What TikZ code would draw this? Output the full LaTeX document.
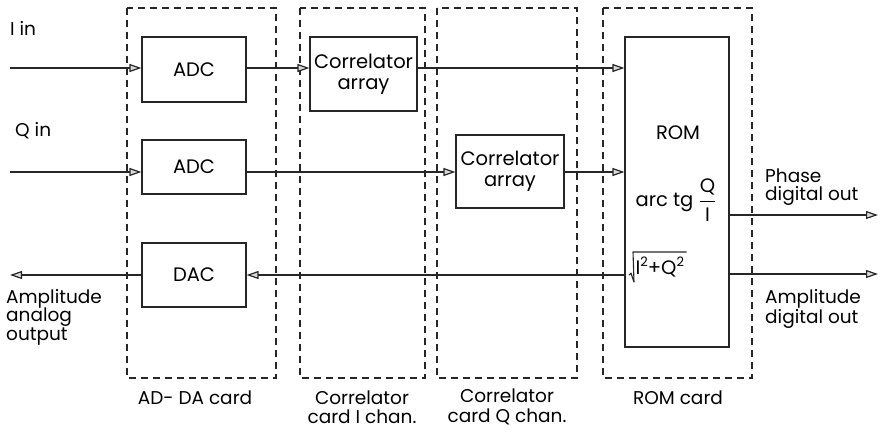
\documentclass[tikz,border=0pt]{standalone}
\usepackage{fontspec}
\setmainfont{Poppins}
\usetikzlibrary{arrows.meta}
\newcommand{\supn}[1]{\raisebox{8pt}{\fontsize{13}{13}\selectfont #1}}
\begin{document}
\begin{tikzpicture}[x=1pt,y=-1pt,
  card/.style={draw=black!85,dashed,dash pattern=on 7pt off 5pt,line width=1.1pt},
  blk/.style={draw=black!85,line width=1.1pt,font=\fontsize{19.5}{21}\selectfont,align=center},
  sig/.style={draw=black!85,line width=1.2pt},
  arr/.style={sig,-{Triangle[open,length=12pt,width=8pt,fill=black!15]}},
  lbl/.style={font=\fontsize{18.5}{18.5}\selectfont,align=left,inner sep=0pt},
  clbl/.style={font=\fontsize{18.5}{19.5}\selectfont,align=center,inner sep=0pt}]
\useasboundingbox (0,0) rectangle (880,437);
% cards
\draw[card] (127,8) rectangle (276,378);
\draw[card] (300,8) rectangle (425,378);
\draw[card] (437,8) rectangle (577,378);
\draw[card] (603,8) rectangle (752,378);
\node[clbl] (cardad) at (195,398) {AD- DA card};
\node[clbl] (cardci) at (362,407) {Correlator\\card I chan.};
\node[clbl] (cardcq) at (507,407) {Correlator\\card Q chan.};
\node[clbl] (cardrom) at (678,398) {ROM card};
% blocks
\node[blk,minimum width=104pt,minimum height=65pt] (adc1) at (194,69.5) {ADC};
\node[blk,minimum width=104pt,minimum height=54pt] (adc2) at (194,167) {ADC};
\node[blk,minimum width=104pt,minimum height=64pt] (dac) at (194,275) {DAC};
\node[blk,minimum width=107pt,minimum height=74pt,inner sep=0pt] (cor1) at (363.5,74) {Correlator\\array};
\node[blk,minimum width=108pt,minimum height=73pt,inner sep=0pt] (cor2) at (510,171.5) {Correlator\\array};
\node[blk,minimum width=104pt,minimum height=310pt] (rom) at (677,192) {};
\node[blk,draw=none] (romt) at (678,133) {ROM};
\node[blk,draw=none] (romf) at (676,200) {arc tg $\displaystyle\frac{\mbox{Q}}{\mbox{I}}$};
\node[blk,draw=none,inner xsep=2pt,inner ysep=0pt,minimum height=29pt,anchor=north west] (roms) at (633,252) {I\supn{2}+Q\supn{2}};
\draw[line width=1.1pt,black!85,line join=round] (roms.north east) -- (roms.north west) -- ([xshift=1pt]roms.south west) -- ([xshift=-2pt,yshift=9pt]roms.south west) -- ([xshift=-4pt,yshift=7pt]roms.south west);
% labels
\node[lbl,anchor=west] (iinl) at (10,28) {I in};
\node[lbl,anchor=west] (qinl) at (15,131) {Q in};
\node[lbl,anchor=north west] (aol) at (6,289) {Amplitude\\analog\\output};
\node[lbl,anchor=west] (phl) at (765,187) {Phase\\digital out};
\node[lbl,anchor=west] (adl) at (765,309) {Amplitude\\digital out};
% coordinates
\coordinate (iin) at (10,68);
\coordinate (qin) at (10,172);
\coordinate (aout) at (10,275);
\coordinate (phout) at (878,215);
\coordinate (adout) at (878,274);
% connectors
\draw[arr] (iin) -- (iin -| adc1.west);
\draw[arr] (iin -| adc1.east) -- (iin -| cor1.west);
\draw[arr] (iin -| cor1.east) -- (iin -| rom.west);
\draw[arr] (qin) -- (qin -| adc2.west);
\draw[arr] (qin -| adc2.east) -- (qin -| cor2.west);
\draw[arr] (qin -| cor2.east) -- (qin -| rom.west);
\draw[arr] (aout -| rom.west) -- (dac.east);
\draw[arr] (dac.west) -- (aout);
\draw[arr] (phout -| rom.east) -- (phout);
\draw[arr] (adout -| rom.east) -- (adout);
\end{tikzpicture}
\end{document}
